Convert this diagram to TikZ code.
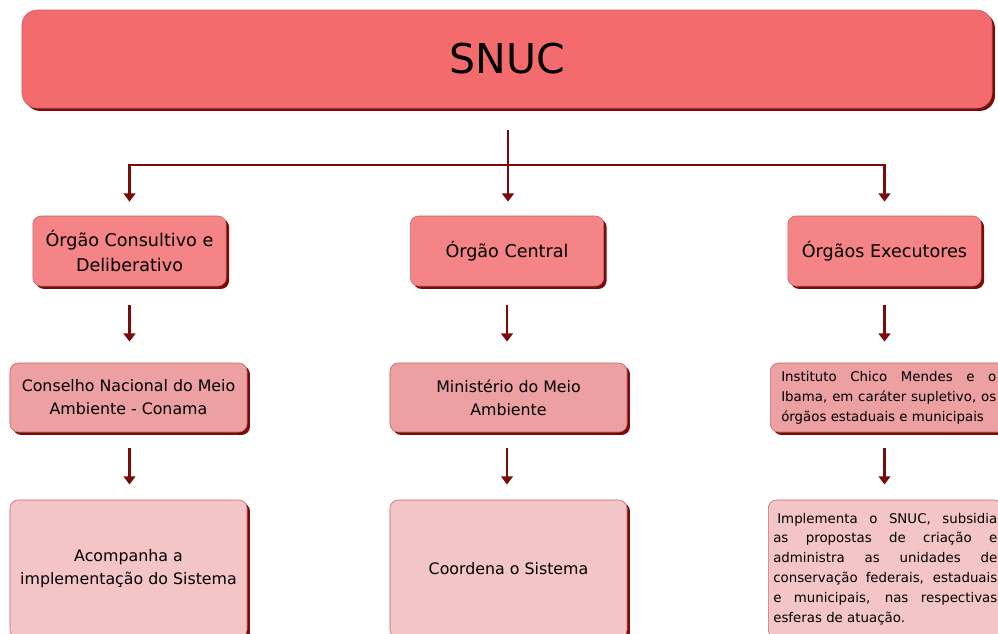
\documentclass[tikz,border=0pt]{standalone}
\usepackage{fontspec}
\setmainfont{DejaVu Sans}
\usepackage{tikz}
\usetikzlibrary{arrows.meta,shadows}
\definecolor{snucred}{HTML}{F46B6E}
\definecolor{orgred}{HTML}{F58486}
\definecolor{midred}{HTML}{ECA0A2}
\definecolor{lightred}{HTML}{F4C5C7}
\definecolor{darkred}{HTML}{7A0B0B}
\definecolor{edgered}{HTML}{C4676A}

\begin{document}
\begin{tikzpicture}[x=0.03cm, y=-0.03cm,
    >={Triangle[width=10pt,length=7pt]},
    box/.style={draw=edgered, line width=0.5pt, rounded corners=7pt, align=center,
        drop shadow={shadow xshift=2.5pt, shadow yshift=-2.5pt, fill=darkred, opacity=1}},
    orgbox/.style={box, fill=orgred, minimum width=5.8cm, minimum height=2.1cm, font=\fontsize{15}{21}\selectfont},
    midbox/.style={box, fill=midred, minimum width=7.11cm, minimum height=2.07cm, font=\fontsize{13.5}{19.5}\selectfont},
    lowbox/.style={box, fill=lightred, minimum width=7.11cm, minimum height=4.14cm, font=\fontsize{13.5}{19.5}\selectfont},
    textbox/.style={align=justify, anchor=west, font=\fontsize{11.4}{17}\selectfont},
    conn/.style={->, draw=darkred, line width=2.4pt}]

    \useasboundingbox (0,0) rectangle (998,633);

    \node[box, fill=snucred, rounded corners=13pt, minimum width=29.1cm, minimum height=2.94cm, font=\fontsize{35}{40}\selectfont] (snuc) at (507,59) {SNUC};

    \node[orgbox] (orgcons) at (129.5,251) {Órgão Consultivo e\\Deliberativo};
    \node[orgbox] (orgcent) at (507,251) {Órgão Central};
    \node[orgbox] (orgexec) at (884.5,251) {Órgãos Executores};

    \node[midbox] (conama) at (128.5,397.5) {Conselho Nacional do Meio\\Ambiente - Conama};
    \node[midbox] (mma) at (508.5,397.5) {Ministério do Meio\\Ambiente};
    \node[midbox, textbox, minimum width=0cm, text width=6.45cm, inner xsep=0.33cm] (icmbio) at (770,397.5)
        {Instituto Chico Mendes e o\linebreak Ibama, em caráter supletivo, os\linebreak órgãos estaduais e municipais};

    \node[lowbox] (acomp) at (128.5,569) {Acompanha a\\implementação do Sistema};
    \node[lowbox] (coord) at (508.5,569) {Coordena o Sistema};
    \node[lowbox, textbox, minimum width=0cm, text width=6.72cm, inner xsep=0.15cm] (implem) at (768,569)
        {\hspace*{0.3em}Implementa o SNUC, subsidia\linebreak as propostas de criação e\linebreak administra as unidades de\linebreak conservação federais, estaduais\linebreak e municipais, nas respectivas\linebreak esferas de atuação.};

    % SNUC to the three bodies
    \coordinate (split) at (508,165);
    \draw[conn, shorten <=18.8pt, shorten >=12pt] (snuc.south -| split) -- (split |- orgcent.north);
    \draw[conn, shorten >=12pt] (split) -| (orgcons);
    \draw[conn, shorten >=12pt] (split) -| (orgexec);

    % down each column
    \draw[conn, shorten <=16pt, shorten >=18pt] (orgcons.south) -- (orgcons.south |- conama.north);
    \draw[conn, shorten <=16pt, shorten >=18pt] (orgcent.south) -- (orgcent.south |- mma.north);
    \draw[conn, shorten <=16pt, shorten >=18pt] (orgexec.south) -- (orgexec.south |- icmbio.north);
    \draw[conn, shorten <=13.7pt, shorten >=13pt] (conama.south -| orgcons) -- (acomp.north -| orgcons);
    \draw[conn, shorten <=13.7pt, shorten >=13pt] (mma.south -| orgcent) -- (coord.north -| orgcent);
    \draw[conn, shorten <=13.7pt, shorten >=13pt] (icmbio.south -| orgexec) -- (implem.north -| orgexec);
\end{tikzpicture}
\end{document}
